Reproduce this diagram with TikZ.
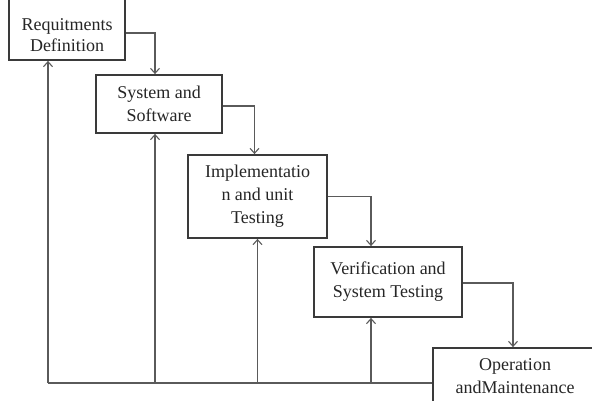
\documentclass[tikz,border=0pt]{standalone}
\usepackage{fontspec}
\setmainfont{Liberation Serif}
\usepackage{tikz}
\usetikzlibrary{arrows.meta}
\definecolor{boxline}{HTML}{3A3A3A}
\definecolor{flowline}{HTML}{5A5A5A}
\tikzstyle{stage}=[rectangle, draw=boxline, line width=1.8pt, fill=white, align=center,
    text=black!85, font=\fontsize{18}{23}\selectfont, inner sep=0pt]
\tikzstyle{flow}=[draw=flowline, line width=1.1pt, -{Straight Barb[length=5pt, width=9pt]}]
\tikzstyle{back}=[draw=flowline, line width=1.1pt]

\begin{document}
\begin{tikzpicture}[x=1pt, y=-1pt]
                    \useasboundingbox (0, 0) rectangle (592, 400);
                    \node[stage, minimum width=116, minimum height=66] (req) at (67, 27) {};
                    \node[align=center, text=black!85, font=\fontsize{18}{21}\selectfont] (reqtext) at (67, 35) {Requitments\\Definition};
                    \node[stage, minimum width=126, minimum height=58] (sys) at (159, 104) {System and\\Software};
                    \node[stage, minimum width=139, minimum height=83] (impl) at (257.5, 196.5) {Implementatio\\n and unit\\Testing};
                    \node[stage, minimum width=148, minimum height=70] (ver) at (388, 282) {Verification and\\System Testing};
                    \node[stage, minimum width=164, minimum height=56] (ops) at (515, 376) {Operation\\andMaintenance};
                    \coordinate (loopend) at (48, 383);
                    \draw[flow] ([yshift=-6pt]req.east) -| ([xshift=-4pt]sys.north);
                    \draw[flow] ([yshift=-2pt]sys.east) -| ([xshift=-3pt]impl.north);
                    \draw[flow] (impl.east) -| ([xshift=-17pt]ver.north);
                    \draw[flow] ([yshift=-1pt]ver.east) -| ([xshift=-2pt]ops.north);
                    \draw[back] (loopend) -- (ops.west |- loopend);
                    \foreach \n/\dx in {req/-19, sys/-4, impl/0, ver/-17}
                        \draw[flow] ([xshift=\dx pt]\n.south |- loopend) -- ([xshift=\dx pt]\n.south);
                \end{tikzpicture}
\end{document}
